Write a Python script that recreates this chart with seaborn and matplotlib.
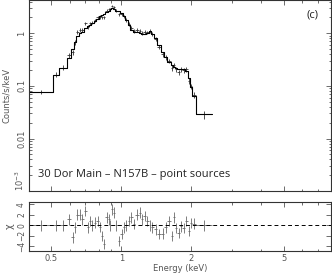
import matplotlib
matplotlib.use("Agg")
import matplotlib.pyplot as plt
import numpy as np
import pandas as pd
import seaborn as sns
from matplotlib.ticker import FixedLocator, FuncFormatter, LogLocator, NullFormatter

# spectral bins (keV)
edges = [0.40, 0.51, 0.54, 0.585, 0.61, 0.625, 0.64, 0.655, 0.67, 0.69,
         0.71, 0.725, 0.74, 0.76, 0.78, 0.80, 0.82, 0.835, 0.855, 0.875,
         0.89, 0.905, 0.925, 0.94, 0.965, 0.99, 1.015, 1.04, 1.065, 1.09,
         1.12, 1.15, 1.19, 1.22, 1.245, 1.275, 1.315, 1.345, 1.38, 1.43,
         1.48, 1.53, 1.58, 1.63, 1.67, 1.70, 1.74, 1.79, 1.83, 1.88,
         1.93, 1.97, 2.01, 2.09, 2.45]

model = [0.077, 0.163, 0.222, 0.345, 0.50, 0.68, 0.90, 1.00, 1.08, 1.25,
         1.36, 1.45, 1.60, 1.72, 1.90, 2.10, 2.25, 2.35, 2.50, 2.70,
         2.90, 3.00, 2.85, 2.70, 2.60, 2.45, 2.15, 1.80, 1.45, 1.18,
         1.08, 1.05, 1.00, 0.96, 0.98, 1.02, 1.10, 0.98, 0.80, 0.60,
         0.44, 0.36, 0.29, 0.25, 0.225, 0.215, 0.21, 0.21, 0.21, 0.195,
         0.14, 0.095, 0.065, 0.029]

counts = [0.077, 0.163, 0.222, 0.38, 0.44, 0.67, 1.05, 1.18, 1.18, 1.55,
          1.33, 1.55, 1.60, 1.78, 2.00, 2.05, 2.00, 2.00, 2.70, 2.85,
          2.90, 3.30, 3.10, 2.70, 2.30, 2.30, 2.10, 1.80, 1.52, 1.26,
          1.10, 1.15, 1.12, 1.02, 1.06, 1.05, 1.10, 0.96, 0.77, 0.55,
          0.40, 0.35, 0.30, 0.22, 0.25, 0.21, 0.18, 0.21, 0.20, 0.21,
          0.125, 0.098, 0.067, 0.029]

counts_err = [0.008, 0.018, 0.025, 0.04, 0.05, 0.07, 0.10, 0.10, 0.10, 0.12,
              0.12, 0.12, 0.12, 0.13, 0.14, 0.15, 0.15, 0.15, 0.18, 0.18,
              0.18, 0.20, 0.20, 0.18, 0.18, 0.16, 0.15, 0.14, 0.12, 0.10,
              0.09, 0.09, 0.09, 0.08, 0.08, 0.08, 0.09, 0.08, 0.07, 0.05,
              0.04, 0.035, 0.03, 0.025, 0.025, 0.022, 0.022, 0.022, 0.022, 0.022,
              0.015, 0.012, 0.009, 0.005]

resid = [0.0, 0.0, 0.0, 1.1, -2.3, -0.4, 2.0, 2.0, 1.1, 2.7,
         -0.4, 0.8, 0.0, 0.5, 0.8, -0.3, -2.0, -3.6, 1.5, 1.1,
         0.0, 3.0, 2.4, 0.0, -3.0, -1.7, -0.4, 0.0, 0.8, 1.5,
         0.2, 2.0, 2.4, 1.1, 1.8, 0.8, 0.0, -0.4, -0.8, -1.7,
         -1.6, -0.4, 0.8, -2.0, 1.5, -0.5, -1.5, -0.2, -0.5, 0.8,
         -1.1, 0.4, 0.3, 0.0]

x_major = [0.5, 1, 2, 5]
x_minor = [0.4, 0.6, 0.7, 0.8, 0.9, 3, 4, 6, 7, 8]

sns.set_theme(style="ticks")
plt.rcParams["font.family"] = ["DejaVu Sans"]

lo = np.array(edges[:-1])
hi = np.array(edges[1:])
centre = np.sqrt(lo * hi)
xerr = [centre - lo, hi - centre]
steps = pd.DataFrame({"energy": edges, "model": model + [model[-1]]})

fig = plt.figure(figsize=(3.32, 2.75), dpi=100)
ax_top = fig.add_axes([0.087, 0.305, 0.91, 0.695])
ax_res = fig.add_axes([0.087, 0.087, 0.91, 0.178], sharex=ax_top)

ax_top.errorbar(centre, counts, xerr=xerr, yerr=counts_err, fmt="none",
                ecolor="#333333", elinewidth=0.6)
sns.lineplot(data=steps, x="energy", y="model", ax=ax_top, color="black",
             lw=0.8, drawstyle="steps-post", estimator=None, sort=False)

ax_res.errorbar(centre, resid, xerr=xerr, yerr=1, fmt="none",
                ecolor="#6a6a6a", elinewidth=0.6)
ax_res.axhline(0, color="black", ls=(0, (4, 3)), lw=0.7)

ax_top.set_xscale("log")
ax_top.set_yscale("log")
ax_top.set_xlim(0.4, 8.0)
ax_top.set_ylim(1e-3, 4.3)
ax_res.set_ylim(-4.9, 4.4)

ax_top.yaxis.set_major_locator(FixedLocator([1e-3, 1e-2, 0.1, 1]))
ax_top.yaxis.set_minor_locator(LogLocator(base=10, subs=np.arange(2, 10)))
ax_top.yaxis.set_minor_formatter(NullFormatter())
ax_top.yaxis.set_major_formatter(FuncFormatter(
    lambda v, _: r"$10^{-3}$" if v < 0.005 else f"{v:g}"))
ax_res.set_yticks([-4, -2, 0, 2, 4])

for ax in (ax_top, ax_res):
    ax.xaxis.set_major_locator(FixedLocator(x_major))
    ax.xaxis.set_minor_locator(FixedLocator(x_minor))
    ax.xaxis.set_minor_formatter(NullFormatter())
    ax.tick_params(which="both", direction="in", top=True, right=True,
                   colors="#555555", labelsize=6, width=0.6, pad=2)
    ax.tick_params(which="major", length=3.5)
    ax.tick_params(which="minor", length=1.8)
    for sp in ax.spines.values():
        sp.set_color("#333333")
        sp.set_linewidth(0.8)
    ax.set_xlabel("")
    ax.set_ylabel("")

ax_top.tick_params(axis="x", labelbottom=False)
ax_res.xaxis.set_major_formatter(FuncFormatter(lambda v, _: f"{v:g}"))
ax_res.yaxis.set_major_formatter(FuncFormatter(lambda v, _: f"{v:g}".replace("-", "−")))
plt.setp(ax_top.get_yticklabels(), rotation=90, va="center")
plt.setp(ax_res.get_yticklabels(), rotation=90, va="center", fontsize=5.5)

fig.canvas.draw()
ytl = ax_top.get_yticklabels()
ytl[0].set_va("bottom")

ax_top.set_ylabel("Counts/s/keV", fontsize=6, color="#555555", labelpad=2)
ax_res.set_ylabel("χ", fontsize=7, color="#555555", labelpad=2)
ax_res.set_xlabel("Energy (keV)", fontsize=6, color="#555555", labelpad=1)

ax_top.text(0.03, 0.085, "30 Dor Main – N157B – point sources",
            transform=ax_top.transAxes, fontsize=8, family="Open Sans",
            va="center", ha="left", color="#222222")
ax_top.text(0.94, 0.92, "(c)", transform=ax_top.transAxes, fontsize=8,
            family="Open Sans", va="center", ha="center", color="#222222")

fig.savefig("out.png", dpi=100)
plt.close(fig)
